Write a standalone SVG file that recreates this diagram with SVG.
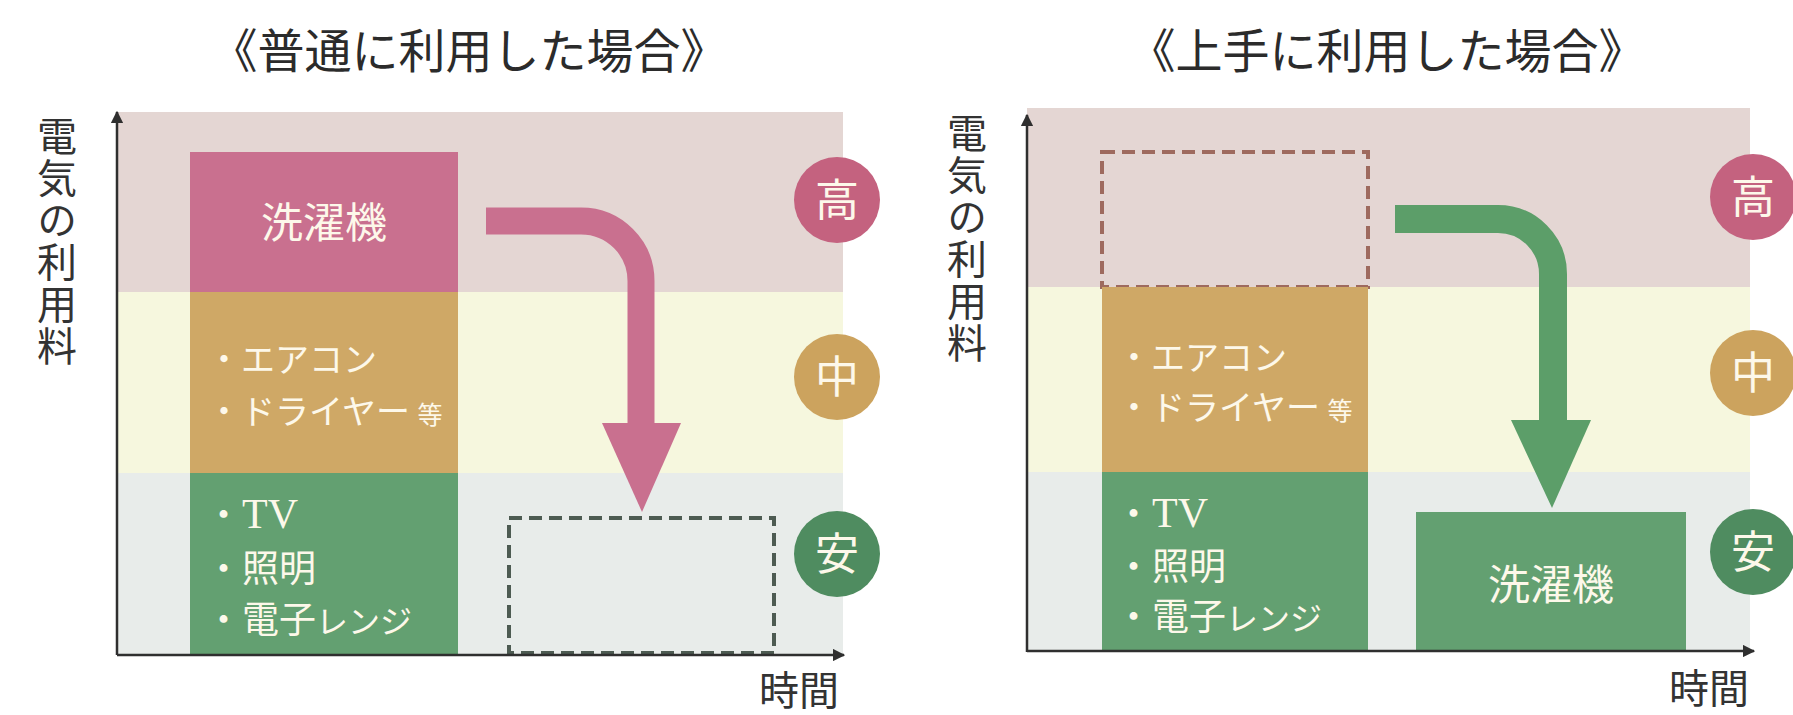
<svg xmlns="http://www.w3.org/2000/svg" width="1793" height="715" viewBox="0 0 1793 715">
<defs>
<style>
text{font-family:"Noto Sans CJK JP","Noto Sans CJK SC",sans-serif;}
.ttl{font-size:47px;fill:#2b2b2b;text-anchor:middle;}
.lbl{font-size:40px;fill:#333;text-anchor:middle;}
.vlbl{font-size:40px;fill:#333;writing-mode:vertical-rl;letter-spacing:2px;}
.wt{fill:#fdf8ea;}
.bh{fill:#e4d6d3;}
.bm{fill:#f6f7de;}
.bl{fill:#e8ecea;}
.pink{fill:#c9708f;}
.tan{fill:#cfa866;}
.grn{fill:#63a071;}
.cp{fill:#c4627f;}
.ct{fill:#cca35e;}
.cg{fill:#4f8c60;}
.ax{stroke:#2f2f2f;stroke-width:2.5;fill:none;}
.circ{font-size:44px;text-anchor:middle;fill:#fdf8ea;}
.item{font-size:34px;fill:#fdf8ea;}
.itemg{font-size:37px;fill:#fdf8ea;}
.small{font-size:25px;}
.kana{font-size:32px;}
.tv{font-family:"Liberation Serif",serif;font-size:42px;}
</style>
<marker id="ah" viewBox="0 0 10 10" refX="9" refY="5" markerWidth="5" markerHeight="5" orient="auto" markerUnits="strokeWidth">
<path d="M0,0 L10,5 L0,10 z" fill="#2f2f2f"/>
</marker>
</defs>
<rect width="1793" height="715" fill="#ffffff"/>

<!-- Left chart -->
<g id="left-title"><text class="ttl" x="469" y="68">《普通に利用した場合》</text></g>
<g id="left-background">
<rect class="bh" x="117" y="112" width="726" height="180"/>
<rect class="bm" x="117" y="292" width="726" height="181"/>
<rect class="bl" x="117" y="473" width="726" height="182"/>
</g>
<g id="left-ylabel"><text class="vlbl" x="57" y="116">電気の利用料</text></g>
<g id="left-washer">
<rect class="pink" x="190" y="152" width="268" height="140"/>
<text class="wt" x="324" y="238" font-size="42" text-anchor="middle">洗濯機</text>
</g>
<g id="left-mid">
<rect class="tan" x="190" y="292" width="268" height="181"/>
<text class="item" x="207" y="372">・エアコン</text>
<text class="item" x="207" y="424">・ドライヤー <tspan class="small">等</tspan></text>
</g>
<g id="left-low">
<rect class="grn" x="190" y="473" width="268" height="182"/>
<text class="itemg" x="205" y="528">・<tspan class="tv">TV</tspan></text>
<text class="itemg" x="205" y="582">・照明</text>
<text class="itemg" x="205" y="633">・電子<tspan class="kana">レンジ</tspan></text>
</g>
<g id="left-empty-slot">
<rect x="509" y="518" width="265" height="135" fill="none" stroke="#4d5b52" stroke-width="4" stroke-dasharray="13 7"/>
</g>
<g id="left-high"><circle class="cp" cx="837" cy="200" r="43"/><text class="circ" x="837" y="216">高</text></g>
<g id="left-medium"><circle class="ct" cx="837" cy="377" r="43"/><text class="circ" x="837" y="393">中</text></g>
<g id="left-cheap"><circle class="cg" cx="837" cy="554" r="43"/><text class="circ" x="837" y="570">安</text></g>
<g id="left-xlabel"><text class="lbl" x="799" y="705">時間</text></g>

<!-- Right chart -->
<g id="right-title"><text class="ttl" x="1387" y="68">《上手に利用した場合》</text></g>
<g id="right-background">
<rect class="bh" x="1027" y="108" width="723" height="179"/>
<rect class="bm" x="1027" y="287" width="723" height="185"/>
<rect class="bl" x="1027" y="472" width="723" height="179"/>
</g>
<g id="right-ylabel"><text class="vlbl" x="967" y="113">電気の利用料</text></g>
<g id="right-empty-slot">
<rect x="1102" y="152" width="266" height="135" fill="none" stroke="#9e6a5e" stroke-width="4" stroke-dasharray="13 7"/>
</g>
<g id="right-mid">
<rect class="tan" x="1102" y="287" width="266" height="185"/>
<text class="item" x="1117" y="370">・エアコン</text>
<text class="item" x="1117" y="420">・ドライヤー <tspan class="small">等</tspan></text>
</g>
<g id="right-low">
<rect class="grn" x="1102" y="472" width="266" height="180"/>
<text class="itemg" x="1115" y="527">・<tspan class="tv">TV</tspan></text>
<text class="itemg" x="1115" y="580">・照明</text>
<text class="itemg" x="1115" y="630">・電子<tspan class="kana">レンジ</tspan></text>
</g>
<g id="right-washer">
<rect class="grn" x="1416" y="512" width="270" height="140"/>
<text class="wt" x="1551" y="600" font-size="42" text-anchor="middle">洗濯機</text>
</g>
<g id="right-high"><circle class="cp" cx="1753" cy="197" r="43"/><text class="circ" x="1753" y="213">高</text></g>
<g id="right-medium"><circle class="ct" cx="1753" cy="373" r="43"/><text class="circ" x="1753" y="389">中</text></g>
<g id="right-cheap"><circle class="cg" cx="1753" cy="552" r="43"/><text class="circ" x="1753" y="568">安</text></g>
<g id="right-xlabel"><text class="lbl" x="1709" y="703">時間</text></g>

<!-- Connectors -->
<g id="connectors">
<line class="ax" x1="117" y1="655" x2="117" y2="112" marker-end="url(#ah)"/>
<line class="ax" x1="117" y1="655" x2="844" y2="655" marker-end="url(#ah)"/>
<line class="ax" x1="1027" y1="652" x2="1027" y2="115" marker-end="url(#ah)"/>
<line class="ax" x1="1027" y1="651" x2="1754" y2="651" marker-end="url(#ah)"/>
<path d="M486,221 H581 A60,60 0 0 1 641,281 V426" fill="none" stroke="#c9708f" stroke-width="27"/>
<polygon points="602,423 681,423 642,512" fill="#c9708f"/>
<path d="M1395,219 H1498 A55,55 0 0 1 1553,274 V423" fill="none" stroke="#5c9e69" stroke-width="28"/>
<polygon points="1511,420 1591,420 1552,508" fill="#5c9e69"/>
</g>
</svg>
